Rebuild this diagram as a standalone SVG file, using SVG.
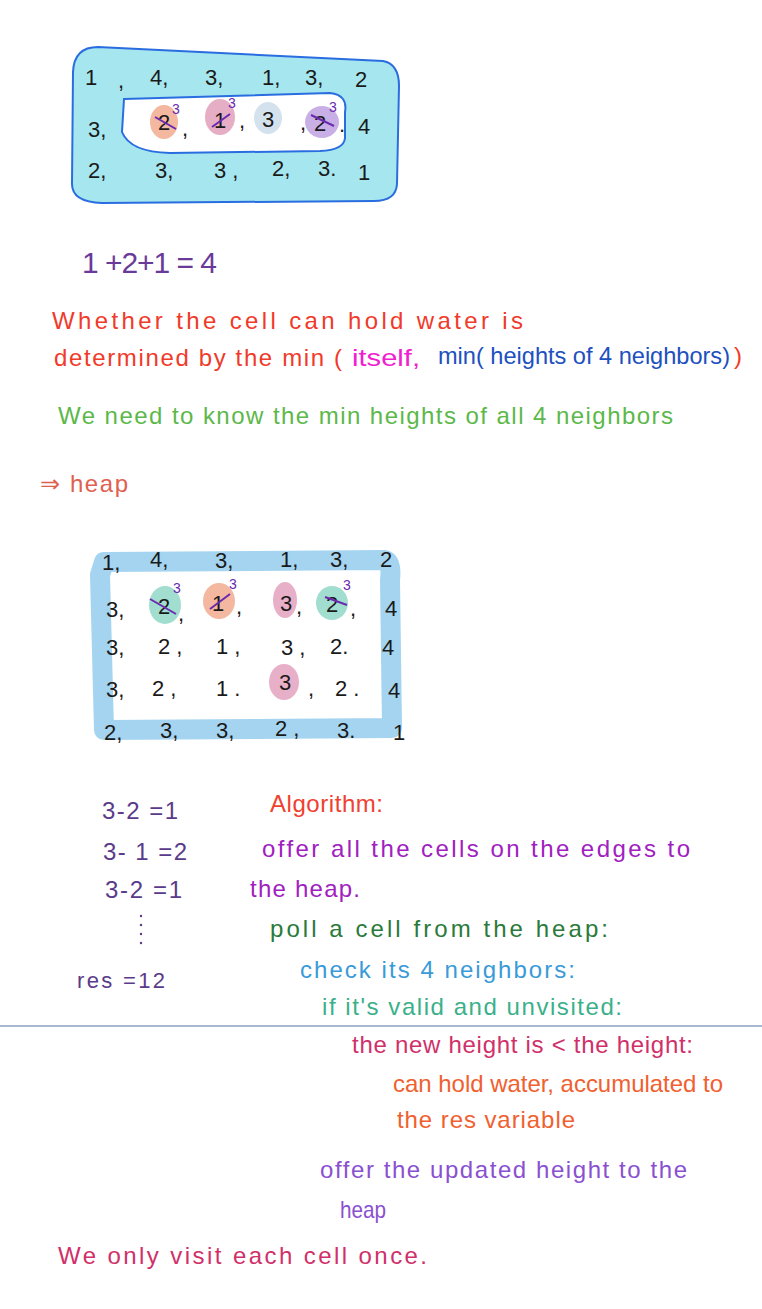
<svg xmlns="http://www.w3.org/2000/svg" width="762" height="1309" viewBox="0 0 762 1309">
<style>
text{font-family:"Liberation Sans","DejaVu Sans",sans-serif;}
.n{font-size:22px;fill:#1a1a1a;}
.s{font-size:14px;fill:#6a2ab0;}
.x{stroke:#6a2ab0;stroke-width:2;}
.t{font-size:24px;}
.c{font-size:24px;fill:#5a3a8a;}
</style>
<rect width="762" height="1309" fill="#ffffff"/>
<g id="grid1">
<path d="M98,47 L383,61 Q399,64 399,86 L397,184 Q396,201 374,201 L102,203 Q72,202 72,184 L73,72 Q74,47 98,47 Z" fill="#a6e6ee" stroke="#2a6de0" stroke-width="2"/>
<path d="M124,99 L330,93 Q348,95 345,112 L345,138 Q344,150 320,151 L170,153 Q130,152 122,132 Z" fill="#ffffff" stroke="#2a6de0" stroke-width="2"/>
<ellipse cx="164" cy="122" rx="14" ry="17" fill="#f4b8a0"/>
<ellipse cx="220" cy="117" rx="15" ry="18" fill="#e6aec4"/>
<ellipse cx="268" cy="118" rx="14" ry="16" fill="#d4e2ee"/>
<ellipse cx="322" cy="122" rx="17" ry="16" fill="#c8b0e6"/>
<text class="n" x="85" y="85">1</text><text class="n" x="118" y="88">,</text>
<text class="n" x="150" y="85">4,</text><text class="n" x="205" y="85">3,</text>
<text class="n" x="262" y="85">1,</text><text class="n" x="305" y="85">3,</text>
<text class="n" x="355" y="87">2</text>
<text class="n" x="88" y="137">3,</text>
<text class="n" x="158" y="130">2</text><line class="x" x1="155" y1="117" x2="176" y2="129"/><text class="s" x="172" y="114">3</text><text class="n" x="182" y="136">,</text>
<text class="n" x="214" y="128">1</text><line class="x" x1="212" y1="127" x2="230" y2="114"/><text class="s" x="228" y="108">3</text><text class="n" x="239" y="128">,</text>
<text class="n" x="262" y="127">3</text>
<text class="n" x="300" y="130">,</text><text class="n" x="314" y="131">2</text><line class="x" x1="311" y1="115" x2="334" y2="126"/><text class="s" x="329" y="112">3</text><text class="n" x="339" y="132">.</text>
<text class="n" x="358" y="134">4</text>
<text class="n" x="88" y="178">2,</text><text class="n" x="155" y="178">3,</text>
<text class="n" x="214" y="178">3 ,</text><text class="n" x="272" y="176">2,</text>
<text class="n" x="318" y="176">3.</text><text class="n" x="358" y="180">1</text>
</g>
<g id="notes1">
<text x="82" y="273" style="font-size:30px;fill:#6a3a9a" textLength="135" lengthAdjust="spacing">1 +2+1 = 4</text>
<text class="t" x="52" y="329" fill="#f03a2a" textLength="471" lengthAdjust="spacing">Whether the cell can hold water is</text>
<text class="t" x="54" y="366" fill="#f03a2a" textLength="288" lengthAdjust="spacing">determined by the min (</text>
<text class="t" x="352" y="366" fill="#f020d0" textLength="68" lengthAdjust="spacingAndGlyphs">itself,</text>
<text class="t" x="438" y="364" fill="#2050c0" textLength="292" lengthAdjust="spacingAndGlyphs">min( heights of 4 neighbors)</text>
<text class="t" x="734" y="364" fill="#f03a2a">)</text>
<text class="t" x="58" y="424" fill="#5cb84a" textLength="615" lengthAdjust="spacing">We need to know the min heights of all 4 neighbors</text>
<text class="t" x="40" y="492" fill="#e06050" textLength="88" lengthAdjust="spacing">⇒ heap</text>
</g>
<g id="grid2">
<path d="M104,562 L385,560 Q392,562 390,580 L392,728 L104,730 L100,575 Z" fill="none" stroke="#a4d4f0" stroke-width="20" stroke-linejoin="round"/>
<ellipse cx="165" cy="605" rx="16" ry="19" fill="#a2ded0"/>
<ellipse cx="219" cy="601" rx="16" ry="18" fill="#f4b8a0"/>
<ellipse cx="285" cy="600" rx="12" ry="18" fill="#e8b0c8"/>
<ellipse cx="332" cy="603" rx="16" ry="17" fill="#a2ded0"/>
<ellipse cx="284" cy="682" rx="15" ry="18" fill="#e8b0c8"/>
<text class="n" x="102" y="570">1,</text><text class="n" x="150" y="567">4,</text>
<text class="n" x="215" y="568">3,</text><text class="n" x="280" y="567">1,</text>
<text class="n" x="330" y="567">3,</text><text class="n" x="380" y="567">2</text>
<text class="n" x="106" y="617">3,</text>
<text class="n" x="158" y="614">2</text><line class="x" x1="150" y1="599" x2="176" y2="614"/><text class="s" x="173" y="593">3</text><text class="n" x="178" y="621">,</text>
<text class="n" x="212" y="611">1</text><line class="x" x1="210" y1="609" x2="230" y2="594"/><text class="s" x="229" y="589">3</text><text class="n" x="236" y="614">,</text>
<text class="n" x="280" y="611">3</text><text class="n" x="296" y="614">,</text>
<text class="n" x="326" y="612">2</text><line class="x" x1="325" y1="597" x2="347" y2="605"/><text class="s" x="343" y="590">3</text><text class="n" x="350" y="616">,</text>
<text class="n" x="385" y="616">4</text>
<text class="n" x="106" y="655">3,</text><text class="n" x="158" y="654">2 ,</text>
<text class="n" x="216" y="654">1 ,</text><text class="n" x="281" y="655">3 ,</text>
<text class="n" x="330" y="654">2.</text><text class="n" x="382" y="655">4</text>
<text class="n" x="106" y="697">3,</text><text class="n" x="152" y="696">2 ,</text>
<text class="n" x="216" y="696">1 .</text><text class="n" x="279" y="690">3</text>
<text class="n" x="308" y="696">,</text><text class="n" x="335" y="696">2 .</text>
<text class="n" x="388" y="698">4</text>
<text class="n" x="104" y="740">2,</text><text class="n" x="160" y="738">3,</text>
<text class="n" x="216" y="738">3,</text><text class="n" x="275" y="736">2 ,</text>
<text class="n" x="337" y="738">3.</text><text class="n" x="393" y="740">1</text>
</g>
<g id="calc">
<text class="c" x="102" y="819" textLength="76" lengthAdjust="spacing">3-2 =1</text>
<text class="c" x="103" y="860" textLength="84" lengthAdjust="spacing">3- 1 =2</text>
<text class="c" x="105" y="898" textLength="77" lengthAdjust="spacing">3-2 =1</text>
<circle cx="141" cy="916" r="1.2" fill="#5a3a8a"/><circle cx="141" cy="925" r="1.2" fill="#5a3a8a"/>
<circle cx="141" cy="934" r="1.2" fill="#5a3a8a"/><circle cx="141" cy="943" r="1.2" fill="#5a3a8a"/>
<text class="c" x="77" y="988" style="font-size:22px" textLength="88" lengthAdjust="spacing">res =12</text>
</g>
<g id="algorithm">
<text class="t" x="270" y="812" fill="#f04030" textLength="113" lengthAdjust="spacing">Algorithm:</text>
<text class="t" x="262" y="857" fill="#a020c0" textLength="428" lengthAdjust="spacing">offer all the cells on the edges to</text>
<text class="t" x="250" y="897" fill="#a020c0" textLength="110" lengthAdjust="spacing">the heap.</text>
<text class="t" x="270" y="937" fill="#2a7a3a" textLength="338" lengthAdjust="spacing">poll a cell from the heap:</text>
<text class="t" x="300" y="978" fill="#3a9ad8" textLength="275" lengthAdjust="spacing">check its 4 neighbors:</text>
<text class="t" x="322" y="1015" fill="#3ab08a" textLength="300" lengthAdjust="spacing">if it's valid and unvisited:</text>
<line x1="0" y1="1026" x2="762" y2="1026" stroke="#a8b8d0" stroke-width="2"/>
<text class="t" x="352" y="1053" fill="#d0306a" textLength="341" lengthAdjust="spacing">the new height is &lt; the height:</text>
<text class="t" x="393" y="1092" fill="#f06030" textLength="330" lengthAdjust="spacing">can hold water, accumulated to</text>
<text class="t" x="397" y="1128" fill="#f06030" textLength="178" lengthAdjust="spacing">the res variable</text>
<text class="t" x="320" y="1178" fill="#8a50d0" textLength="367" lengthAdjust="spacing">offer the updated height to the</text>
<text class="t" x="340" y="1218" fill="#8a50d0" textLength="46" lengthAdjust="spacingAndGlyphs">heap</text>
<text class="t" x="58" y="1264" fill="#d0306a" textLength="369" lengthAdjust="spacing">We only visit each cell once.</text>
</g>
</svg>
